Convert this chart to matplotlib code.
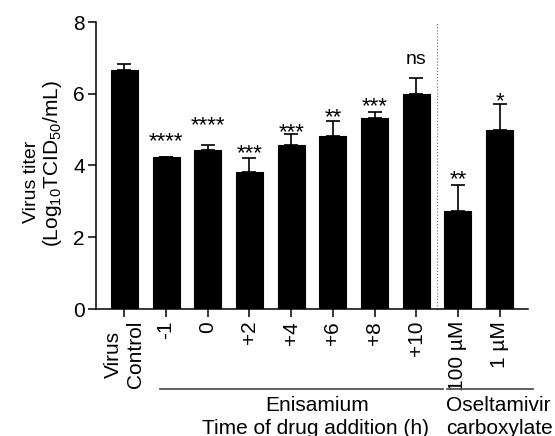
import matplotlib
matplotlib.use("Agg")
import matplotlib.pyplot as plt
import numpy as np

plt.rcParams['font.family'] = ['Liberation Sans', 'DejaVu Sans']
plt.rcParams['mathtext.fontset'] = 'custom'
plt.rcParams['mathtext.rm'] = 'Liberation Sans'
plt.rcParams['mathtext.it'] = 'Liberation Sans'

# ---- data ----
categories = ["Virus\nControl", "-1", "0", "+2", "+4", "+6", "+8", "+10", "100 µM", "1 µM"]
means = [6.66, 4.23, 4.43, 3.83, 4.58, 4.82, 5.33, 6.00, 2.74, 4.99]
errors = [0.16, 0.02, 0.14, 0.39, 0.29, 0.41, 0.16, 0.43, 0.72, 0.72]
significance = ["", "****", "****", "***", "***", "**", "***", "ns", "**", "*"]
y_ticks = [0, 2, 4, 6, 8]

# ---- layout ----
label_offset_pt = [0, 8, 11, 0, -2, 0, 1, 4, 1, -1]

fig = plt.figure(figsize=(5.55, 4.36), dpi=100)
ax = fig.add_axes([96/555, 1-309/436, (528-96)/555, (309-22)/436])

x = np.arange(len(categories))
ax.bar(x, means, width=0.65, color='black', edgecolor='black', linewidth=0.8, zorder=2)
ax.errorbar(x, means, yerr=[np.zeros(len(errors)), errors], fmt='none', ecolor='black',
            elinewidth=1.2, capsize=4.8, capthick=1.2, zorder=1)

for i, (m, e, s) in enumerate(zip(means, errors, significance)):
    if not s:
        continue
    if s == "ns":
        ax.annotate(s, xy=(i, m + e), xytext=(0, 6 + label_offset_pt[i]), textcoords='offset points',
                    ha='center', va='baseline', fontsize=14)
    else:
        ax.annotate(s, xy=(i, m + e), xytext=(0, -1 + label_offset_pt[i]), textcoords='offset points',
                    ha='center', va='baseline', fontsize=16)

ax.axvline(7.5, ymin=0, ymax=1, color='gray', linestyle=(0, (1, 1.5)), linewidth=0.9, zorder=0)

ax.set_xlim(-0.68, 9.68)
ax.set_ylim(0, 8)
ax.set_yticks(y_ticks)
ax.set_yticklabels([str(v) for v in y_ticks], fontsize=15)
ax.set_xticks(x)
ax.set_xticklabels(categories, rotation=90, fontsize=15, ha='center', va='top', multialignment='center')
ax.tick_params(axis='y', length=6, width=1.1, pad=2)
ax.tick_params(axis='x', length=5.5, width=1.1, pad=3)
for sp in ['top', 'right']:
    ax.spines[sp].set_visible(False)
for sp in ['left', 'bottom']:
    ax.spines[sp].set_linewidth(1.1)

# y label
fig.text(31/555, 1-182/436, "Virus titer", rotation=90, ha='center', va='center', fontsize=14)
fig.text(53/555, 1-164/436, r"(Log$_{10}$TCID$_{50}$/mL)", rotation=90, ha='center', va='center', fontsize=15)

# group annotations
line_y = 1 - 389/436
fig.add_artist(plt.Line2D([160/555, 443/555], [line_y, line_y], color='#555555', linewidth=1.3))
fig.add_artist(plt.Line2D([447/555, 533/555], [line_y, line_y], color='#555555', linewidth=1.3))
fig.text(317/555, 1-405/436, "Enisamium", ha='center', va='center', fontsize=15)
fig.text(315/555, 1-428/436, "Time of drug addition (h)", ha='center', va='center', fontsize=15)
fig.text(446/555, 1-405/436, "Oseltamivir", ha='left', va='center', fontsize=15)
fig.text(446/555, 1-428/436, "carboxylate", ha='left', va='center', fontsize=15)

fig.savefig("out.png", dpi=100)
